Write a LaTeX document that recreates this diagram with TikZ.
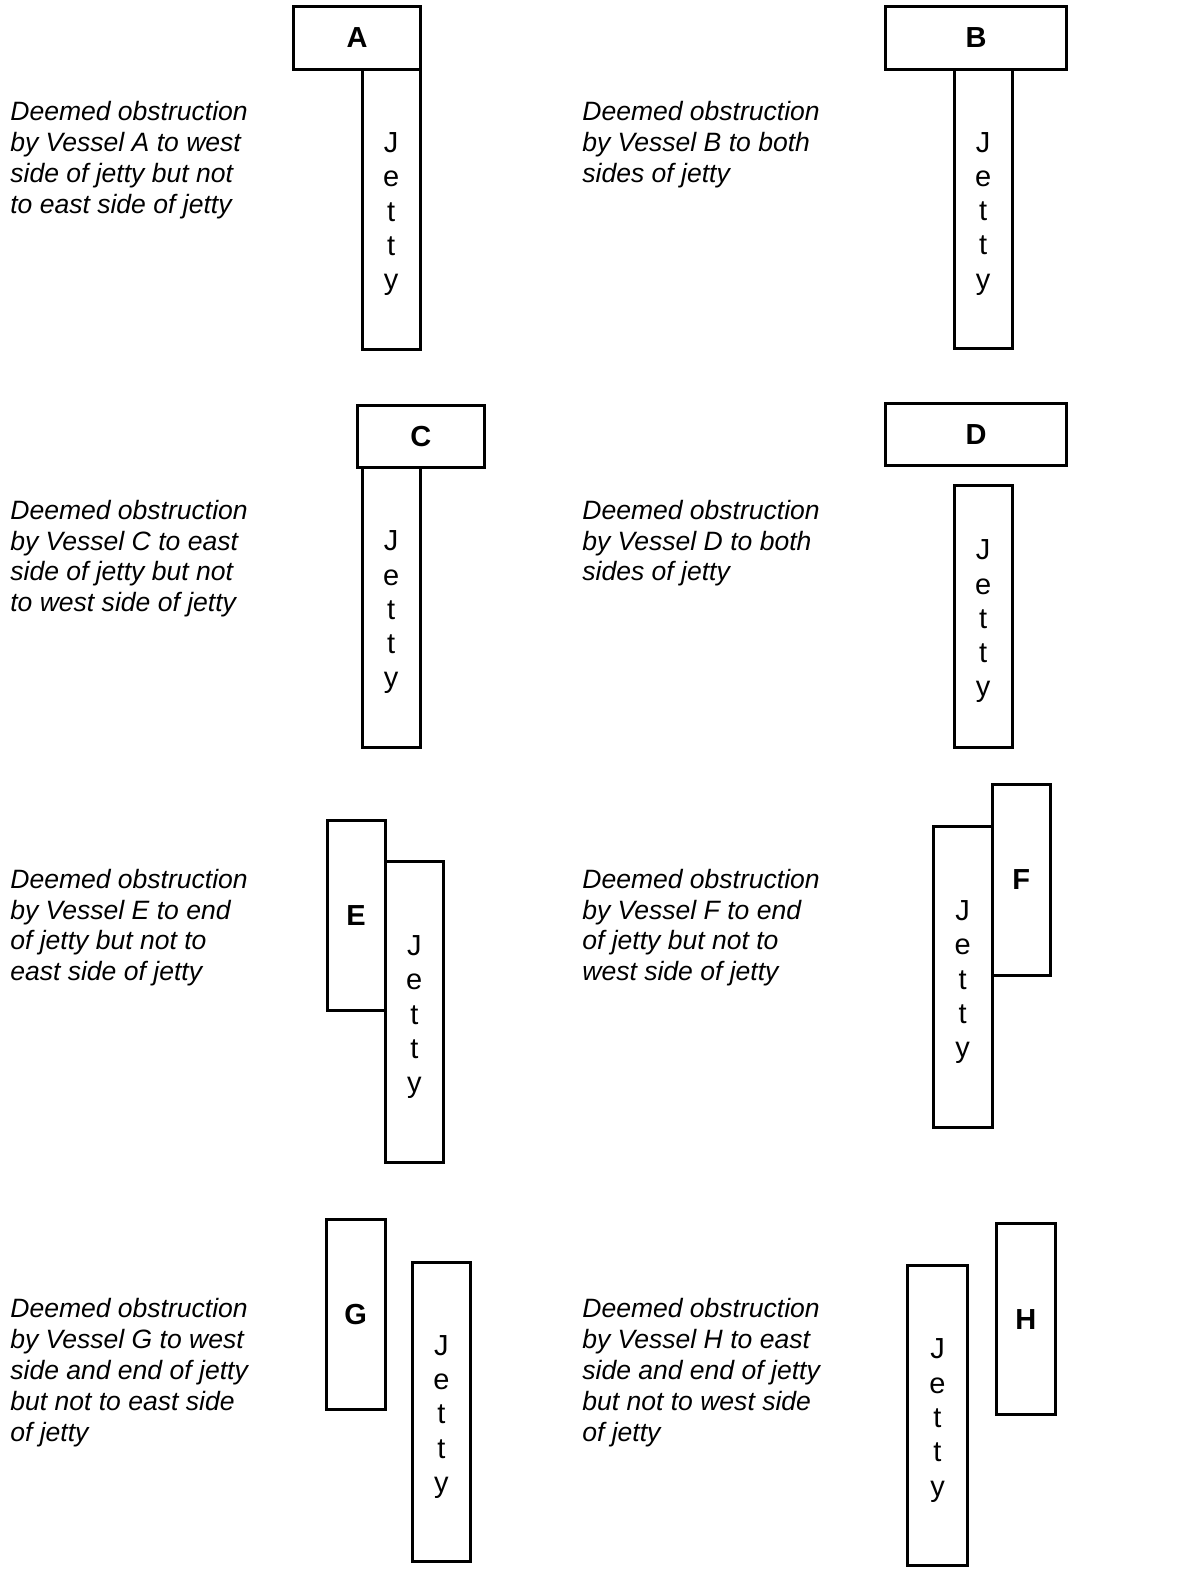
\documentclass[tikz,border=0pt]{standalone}
\usepackage{fontspec}
\setmainfont{Liberation Sans}
\usetikzlibrary{positioning}

\tikzset{
  box/.style={draw, line width=1.7pt, inner sep=0pt},
  vessel/.style={box, font=\fontsize{16.5pt}{19pt}\selectfont\bfseries},
  letters/.style={align=center, inner sep=0pt, yshift=-0.1cm,
    font=\fontsize{16.5pt}{19.5pt}\selectfont},
  jetty/.style={box, label={[letters]center:{J\\e\\t\\t\\y}}},
  note/.style={anchor=north west, align=left, inner sep=0pt,
    font=\fontsize{15.1pt}{17.6pt}\selectfont\itshape}
}

\begin{document}
\begin{tikzpicture}[x=0.02cm, y=-0.02cm]
  \useasboundingbox (0,0) rectangle (1195,1573);

  % Case A
  \node[jetty, minimum width=1.164cm, minimum height=5.598cm] (jA) at (391.2,209.2) {};
  \node[vessel, minimum width=2.528cm, minimum height=1.264cm] (vA) at (357.1,37.6) {A};
  \node[note] (nA) at (10,101) {Deemed obstruction\\by Vessel A to west\\side of jetty but not\\to east side of jetty};

  % Case B
  \node[jetty, minimum width=1.164cm, minimum height=5.578cm] (jB) at (983.1,208.7) {};
  \node[vessel, minimum width=3.612cm, minimum height=1.264cm] (vB) at (976.1,37.6) {B};
  \node[note] (nB) at (582,101) {Deemed obstruction\\by Vessel B to both\\sides of jetty};

  % Case C
  \node[jetty, minimum width=1.164cm, minimum height=5.598cm] (jC) at (391.2,607.4) {};
  \node[vessel, minimum width=2.548cm, minimum height=1.244cm] (vC) at (420.8,436.4) {C};
  \node[note] (nC) at (10,499.5) {Deemed obstruction\\by Vessel C to east\\side of jetty but not\\to west side of jetty};

  % Case D
  \node[jetty, minimum width=1.164cm, minimum height=5.237cm] (jD) at (983.1,616.5) {};
  \node[vessel, minimum width=3.612cm, minimum height=1.244cm] (vD) at (976.1,434.4) {D};
  \node[note] (nD) at (582,499.5) {Deemed obstruction\\by Vessel D to both\\sides of jetty};

  % Case E
  \node[jetty, minimum width=1.164cm, minimum height=6.019cm] (jE) at (414.3,1012.2) {};
  \node[vessel, minimum width=1.164cm, minimum height=3.792cm] (vE) at (356.1,915.4) {E};
  \node[note] (nE) at (10,868.5) {Deemed obstruction\\by Vessel E to end\\of jetty but not to\\east side of jetty};

  % Case F
  \node[jetty, minimum width=1.184cm, minimum height=6.019cm] (jF) at (962.6,977.1) {};
  \node[vessel, minimum width=1.164cm, minimum height=3.812cm] (vF) at (1021.3,879.8) {F};
  \node[note] (nF) at (582,868.5) {Deemed obstruction\\by Vessel F to end\\of jetty but not to\\west side of jetty};

  % Case G
  \node[jetty, minimum width=1.164cm, minimum height=5.999cm] (jG) at (441.4,1412) {};
  \node[vessel, minimum width=1.184cm, minimum height=3.792cm] (vG) at (355.6,1314.7) {G};
  \node[note] (nG) at (10,1298) {Deemed obstruction\\by Vessel G to west\\side and end of jetty\\but not to east side\\of jetty};

  % Case H
  \node[jetty, minimum width=1.184cm, minimum height=6.019cm] (jH) at (937.5,1415.5) {};
  \node[vessel, minimum width=1.184cm, minimum height=3.812cm] (vH) at (1025.8,1319.2) {H};
  \node[note] (nH) at (582,1298) {Deemed obstruction\\by Vessel H to east\\side and end of jetty\\but not to west side\\of jetty};

\end{tikzpicture}
\end{document}
